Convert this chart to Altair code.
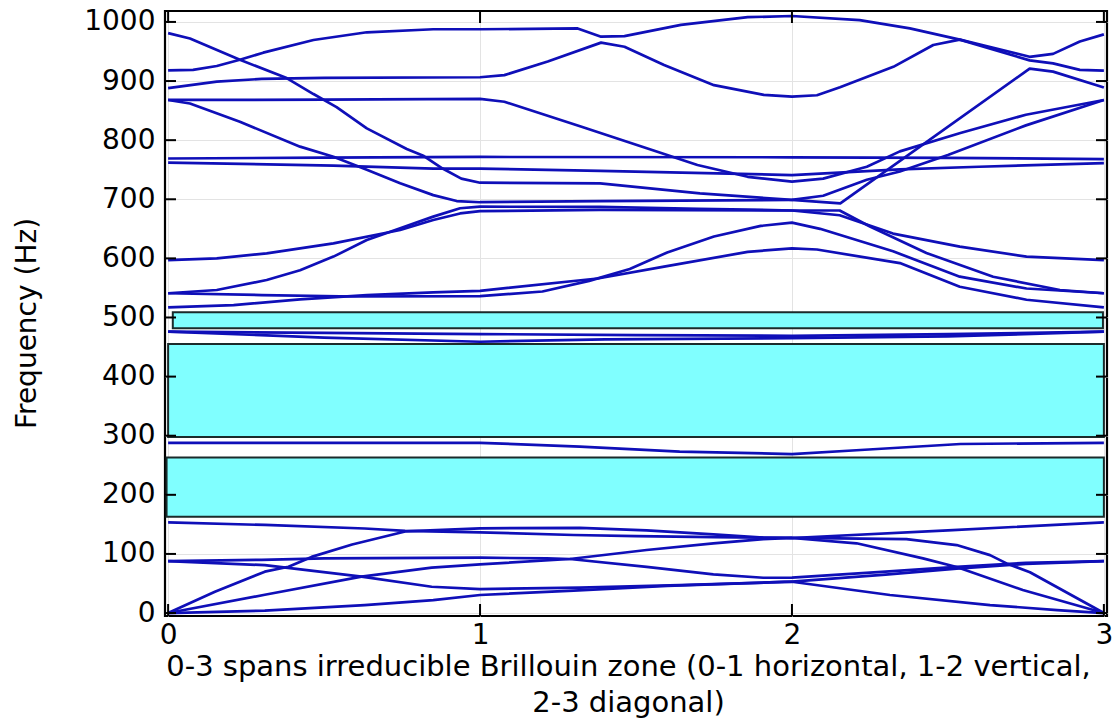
import altair as alt
import pandas as pd

# ---- band structure: (k, frequency in Hz) along the path 0-1-2-3 ----
# lower (acoustic) group
b01 = [(0, 0), (0.31, 4), (0.63, 13.5), (0.85, 22), (1, 30.5), (1.3, 38), (1.6, 46), (2, 53),
       (2.314, 30.5), (2.635, 13.5), (2.85, 5), (3, 0)]
b02 = [(0, 88), (0.31, 81), (0.62, 61.5), (0.845, 44.5), (1, 40.6), (1.32, 43), (1.64, 47.4), (2, 53),
       (2.3, 65), (2.528, 75), (2.75, 83), (3, 88)]
b03 = [(0, 0), (0.31, 31), (0.62, 61.5), (0.845, 76.7), (1, 82.4), (1.288, 91.4), (1.534, 106.6),
       (1.748, 118), (1.908, 125), (2, 127), (2.207, 118), (2.42, 92.5), (2.528, 78), (2.74, 39), (3, 0)]
b04 = [(0, 88), (0.3, 90), (0.5, 92.5), (1, 93.6), (1.214, 92.5), (1.288, 91.4), (1.534, 78),
       (1.748, 65.4), (1.908, 59.7), (2, 59.8), (2.3, 70), (2.528, 78), (2.75, 85), (3, 88)]
b05 = [(0, 0), (0.15, 36), (0.31, 70), (0.386, 78.4), (0.46, 95), (0.59, 116), (0.76, 138), (1, 143.3),
       (1.32, 144), (1.534, 140), (1.748, 133), (1.908, 127.6), (2, 127), (2.367, 125), (2.528, 115),
       (2.635, 98), (2.688, 84), (2.763, 69), (3, 0)]
b06 = [(0, 153.5), (0.31, 149), (0.63, 143), (0.76, 139), (1, 136.5), (1.3, 132), (1.5, 130),
       (1.75, 128.5), (2, 127), (2.5, 140), (3, 153.4)]
# isolated middle bands
b07 = [(0, 288), (0.5, 288), (1, 288), (1.32, 281.5), (1.64, 273), (2, 269), (2.22, 275.8),
       (2.54, 286), (3, 288)]
b08 = [(0, 476), (0.5, 466), (1, 459), (1.4, 463), (2, 465), (2.5, 468), (3, 476)]
b09 = [(0, 476), (0.5, 474), (1, 472), (1.5, 470), (2, 469), (2.5, 472), (3, 476)]
# upper group
b10 = [(0, 517), (0.21, 521), (0.423, 530.8), (0.637, 538), (0.85, 542.6), (1, 545), (1.377, 566),
       (1.59, 586), (1.858, 611), (2, 617), (2.08, 615), (2.346, 592), (2.538, 552), (2.752, 530), (3, 517)]
b11 = [(0, 541), (0.3, 538), (0.6, 535.5), (1, 536), (1.2, 544), (1.35, 562), (1.48, 582), (1.6, 610),
       (1.75, 637), (1.9, 655), (2, 660.5), (2.09, 650), (2.324, 612), (2.538, 569), (2.752, 549), (3, 541)]
b12 = [(0, 541), (0.156, 546.5), (0.316, 563.5), (0.423, 580), (0.53, 603), (0.637, 631), (0.744, 651),
       (0.85, 670.6), (0.936, 684.8), (1, 687.5), (1.385, 687), (1.7, 684), (2, 681), (2.153, 673),
       (2.324, 642), (2.538, 620), (2.752, 603), (3, 597)]
b13 = [(0, 597), (0.156, 600), (0.316, 608.6), (0.53, 625.5), (0.744, 648), (0.85, 665), (0.936, 676),
       (1, 680), (1.385, 682), (2, 681), (2.153, 681), (2.25, 654), (2.431, 609), (2.645, 569),
       (2.859, 546.5), (3, 541)]
b14 = [(0, 762), (0.53, 757), (0.85, 752), (1, 752), (1.385, 748), (2, 741), (2.346, 750.7),
       (2.6, 755), (3, 761)]
b15 = [(0, 769), (0.5, 770.5), (1, 771.6), (2, 771), (2.5, 770), (3, 768)]
b16 = [(0, 868), (0.07, 862), (0.23, 831), (0.423, 789), (0.53, 772), (0.637, 750), (0.744, 727),
       (0.85, 707), (0.925, 697), (1, 695), (1.385, 697), (2, 699), (2.1, 706), (2.24, 733),
       (2.346, 747), (2.5, 775), (2.75, 825), (3, 868)]
b17 = [(0, 868), (0.5, 868.5), (1, 869.7), (1.078, 865), (1.323, 823), (1.537, 786), (1.697, 758),
       (1.858, 738), (2, 730), (2.1, 735), (2.24, 755), (2.346, 781), (2.54, 812), (2.75, 843), (3, 868)]
b18 = [(0, 981), (0.07, 972), (0.23, 936), (0.38, 905), (0.466, 878), (0.54, 856), (0.637, 820),
       (0.765, 785), (0.82, 773), (0.88, 752), (0.94, 735), (1, 728), (1.385, 727), (1.705, 710),
       (2, 699), (2.155, 693), (2.762, 921), (2.837, 916), (3, 889)]
b19 = [(0, 888), (0.156, 899), (0.3, 903.6), (0.5, 905.5), (1, 906.4), (1.078, 910), (1.217, 933),
       (1.388, 965), (1.463, 958), (1.59, 927), (1.75, 893), (1.91, 876.5), (2, 873.6), (2.08, 876),
       (2.154, 889.5), (2.325, 924), (2.453, 961), (2.538, 970), (2.762, 941), (2.837, 946),
       (2.923, 967), (3, 979)]
b20 = [(0, 918), (0.08, 919), (0.156, 925.5), (0.23, 936), (0.305, 948), (0.466, 969.5), (0.637, 982.5),
       (0.85, 987.6), (1, 987.6), (1.313, 989), (1.388, 975), (1.463, 976), (1.644, 995), (1.858, 1008),
       (2, 1010), (2.217, 1003), (2.378, 989), (2.538, 970), (2.762, 935), (2.837, 930),
       (2.923, 919), (3, 917.6)]

bands = [b01, b02, b03, b04, b05, b06, b07, b08, b09, b10,
         b11, b12, b13, b14, b15, b16, b17, b18, b19, b20]

# band gaps (Hz)
gap_low = [163, 298, 482]
gap_high = [263, 455, 509]
gap_k0 = [-0.005, 0.0, 0.015]
gap_k1 = [3.0, 3.0, 2.997]

y_ticks = list(range(0, 1001, 100))
x_ticks = [0, 1, 2, 3]

X_TITLE = ["0-3 spans irreducible Brillouin zone (0-1 horizontal, 1-2 vertical,",
           "2-3 diagonal)"]

W, H = 942, 605
FONT = "DejaVu Sans"
FS = 28
LINE = "#0f0fb8"

rows = []
for i, b in enumerate(bands):
    for j, (k, f) in enumerate(b):
        rows.append({"band": i, "seq": j, "k": k, "f": f})
df = pd.DataFrame(rows)

gaps = pd.DataFrame({"k0": gap_k0, "k1": gap_k1, "lo": gap_low, "hi": gap_high})
yt = pd.DataFrame({"v": y_ticks})
xt = pd.DataFrame({"v": x_ticks})

xs = alt.Scale(domain=[-0.01, 3.01], nice=False, zero=False)
ys = alt.Scale(domain=[-5, 1018.5], nice=False, zero=False)

x_axis = alt.Axis(values=x_ticks, format="d", title=X_TITLE, grid=True, gridColor="#e3e3e3",
                  gridWidth=1, ticks=False, domain=False, labelFontSize=FS, labelColor="#000",
                  labelPadding=5, titleFontSize=29, titleFontWeight="normal", titleColor="#000",
                  titleX=463, titleY=59, titleBaseline="alphabetic", titleAlign="center",
                  titleLineHeight=36, labelFlush=False)
y_axis = alt.Axis(values=y_ticks, format="d", title="Frequency (Hz)", grid=True, gridColor="#e3e3e3",
                  gridWidth=1, ticks=False, domain=False, labelFontSize=FS, labelColor="#000",
                  labelPadding=10, titleFontSize=FS, titleFontWeight="normal", titleColor="#000",
                  titleX=-138, titleY=312, titleAngle=-90, titleAlign="center",
                  titleBaseline="middle", labelFlush=False)

base_gap = alt.Chart(gaps).mark_rect(fill="#80ffff", stroke="#1b2b2b", strokeWidth=2).encode(
    x=alt.X("k0:Q", scale=xs, axis=x_axis),
    x2="k1:Q",
    y=alt.Y("lo:Q", scale=ys, axis=y_axis),
    y2="hi:Q",
)

lines = alt.Chart(df).mark_line(color=LINE, strokeWidth=2.7, strokeJoin="round").encode(
    x=alt.X("k:Q", scale=xs),
    y=alt.Y("f:Q", scale=ys),
    detail="band:N",
    order="seq:Q",
)

tick_style = dict(color="#000", strokeWidth=2)
left_t = alt.Chart(yt).mark_rule(**tick_style).encode(
    y=alt.Y("v:Q", scale=ys), x=alt.value(0), x2=alt.value(11))
right_t = alt.Chart(yt).mark_rule(**tick_style).encode(
    y=alt.Y("v:Q", scale=ys), x=alt.value(W), x2=alt.value(W - 11))
bottom_t = alt.Chart(xt).mark_rule(**tick_style).encode(
    x=alt.X("v:Q", scale=xs), y=alt.value(H), y2=alt.value(H - 12))
top_t = alt.Chart(xt).mark_rule(**tick_style).encode(
    x=alt.X("v:Q", scale=xs), y=alt.value(0), y2=alt.value(12))

chart = alt.layer(base_gap, lines, left_t, right_t, bottom_t, top_t).properties(
    width=W, height=H,
    autosize=alt.AutoSizeParams(type="none"),
    padding={"left": 165, "top": 11, "right": 9, "bottom": 111},
).configure(font=FONT).configure_view(stroke="#000", strokeWidth=2.2)

chart.save("out.html", embed_options={"renderer": "svg", "actions": False})
